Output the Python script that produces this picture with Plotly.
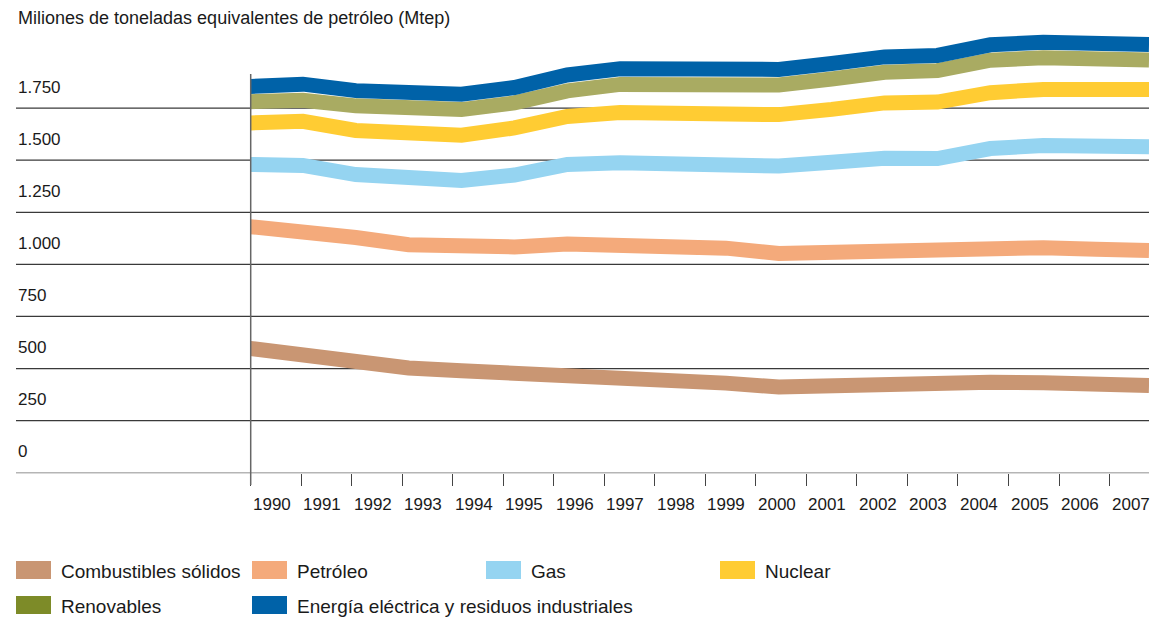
import plotly.graph_objects as go

# ---------------- data ----------------
years = list(range(1990, 2008))
year_labels = [str(y) for y in years]

series_names = ["Combustibles sólidos", "Petróleo", "Gas", "Nuclear",
                "Renovables", "Energía eléctrica y residuos industriales"]

solidos = [597, 563, 537, 503, 489, 477, 479, 464, 446, 430, 411, 421, 421, 423, 434, 432, 420, 419]
petroleo = [1181, 1164, 1129, 1094, 1086, 1084, 1098, 1095, 1090, 1078, 1052, 1059, 1072, 1066, 1082, 1080, 1073, 1067]
gas = [1480, 1475, 1431, 1412, 1403, 1429, 1480, 1488, 1478, 1478, 1472, 1490, 1509, 1508, 1556, 1571, 1573, 1565]
nuclear = [1679, 1687, 1643, 1630, 1620, 1655, 1710, 1729, 1721, 1724, 1719, 1744, 1775, 1779, 1824, 1840, 1840, 1840]
renovables = [1781, 1788, 1761, 1754, 1743, 1775, 1833, 1864, 1864, 1869, 1861, 1890, 1922, 1930, 1980, 1992, 1986, 1981]
electrica = [1854, 1865, 1834, 1828, 1817, 1849, 1909, 1939, 1938, 1944, 1936, 1964, 1996, 2003, 2054, 2066, 2061, 2056]

y_tick_vals = [0, 250, 500, 750, 1000, 1250, 1500, 1750]
y_tick_text = ["0", "250", "500", "750", "1.000", "1.250", "1.500", "1.750"]

title_text = "Miliones de toneladas equivalentes de petróleo (Mtep)"

# ---------------- style ----------------
line_colors = ["#C99673", "#F4AA7B", "#95D4F1", "#FFCC33", "#A9AB62", "#0062A8"]
swatch_colors = ["#C99673", "#F4AA7B", "#95D4F1", "#FFCC33", "#7D8B28", "#0062A8"]
FONT = "Liberation Sans, Arial, Helvetica, sans-serif"
TXT = "#1a1a1a"

W, H = 1152, 622
ML, MR, MT, MB = 250, 3, 20, 144
PW = W - ML - MR
PH = H - MT - MB


def px2x(px):
    return (px - ML) / PW


def py2y(py):
    return (H - MB - py) / PH


series_values = [solidos, petroleo, gas, nuclear, renovables, electrica]

fig = go.Figure()
for name, vals, col in zip(series_names, series_values, line_colors):
    fig.add_trace(go.Scatter(x=years, y=vals, mode="lines", name=name,
                             line=dict(color=col, width=15), showlegend=False,
                             hoverinfo="x+y+name"))

shapes = []
annotations = []

# horizontal grid lines extending into the label area
for v in y_tick_vals:
    shapes.append(dict(type="line", xref="paper", yref="y", x0=px2x(16), x1=1.0,
                       y0=v, y1=v, layer="below",
                       line=dict(color="#b5b5b5" if v == 0 else "#3a3a3a",
                                 width=1.5 if v == 0 else 1.2)))
# y labels above each line
for v, t in zip(y_tick_vals, y_tick_text):
    annotations.append(dict(xref="paper", yref="y", x=px2x(16), y=v, yshift=21,
                            text=t, showarrow=False, xanchor="left", yanchor="middle",
                            font=dict(family=FONT, size=17, color=TXT)))

# vertical axis line
shapes.append(dict(type="line", xref="paper", yref="paper", x0=px2x(250.7), x1=px2x(250.7),
                   y0=py2y(74), y1=py2y(485), line=dict(color="#666666", width=1.5)))

# x labels (left aligned after each tick)
for i, t in enumerate(year_labels):
    annotations.append(dict(xref="x2", yref="paper", x=i, y=py2y(504), xshift=0,
                            text=t, showarrow=False, xanchor="left", yanchor="middle",
                            font=dict(family=FONT, size=17, color=TXT)))

# title
annotations.append(dict(xref="paper", yref="paper", x=px2x(16), y=py2y(18),
                        text=title_text, showarrow=False, xanchor="left", yanchor="middle",
                        font=dict(family=FONT, size=18, color=TXT)))

# legend
legend_pos = [(16, 570), (252, 570), (486, 570), (720, 570), (16, 605), (252, 605)]
for (lx, ly), name, col in zip(legend_pos, series_names, swatch_colors):
    shapes.append(dict(type="rect", xref="paper", yref="paper",
                       x0=px2x(lx), x1=px2x(lx + 35), y0=py2y(ly - 9), y1=py2y(ly + 9),
                       fillcolor=col, line=dict(width=0)))
    annotations.append(dict(xref="paper", yref="paper", x=px2x(lx + 43), y=py2y(ly + 1),
                            text=name, showarrow=False, xanchor="left", yanchor="middle",
                            font=dict(family=FONT, size=19, color=TXT)))

tick_step = 50.52
x2_lo = -(250.7 - ML) / tick_step
x2_hi = x2_lo + PW / tick_step

fig.update_layout(
    width=W, height=H,
    margin=dict(l=ML, r=MR, t=MT, b=MB, pad=0),
    paper_bgcolor="white", plot_bgcolor="rgba(0,0,0,0)",
    showlegend=False,
    xaxis=dict(range=[1990, 2007], visible=False, fixedrange=True),
    xaxis2=dict(overlaying="x", anchor="free", position=py2y(472.7), side="bottom",
                range=[x2_lo, x2_hi], tickvals=list(range(len(years))),
                showticklabels=False, ticks="outside", ticklen=12, tickwidth=1.3,
                tickcolor="#444444", showgrid=False, zeroline=False, showline=False,
                fixedrange=True),
    yaxis=dict(range=[-(5.3 / 0.20832), (H - MB - 5.3 - MT) / 0.20832],
               visible=False, fixedrange=True),
    shapes=shapes,
    annotations=annotations,
)

# keep the ticks axis alive with an invisible trace
fig.add_trace(go.Scatter(x=[0], y=[0], xaxis="x2", yaxis="y", mode="markers",
                         marker=dict(opacity=0), showlegend=False, hoverinfo="skip"))

fig.write_html("out.html", config={"displayModeBar": False},
               post_script="document.body.style.margin='0';document.body.style.overflow='hidden';")
